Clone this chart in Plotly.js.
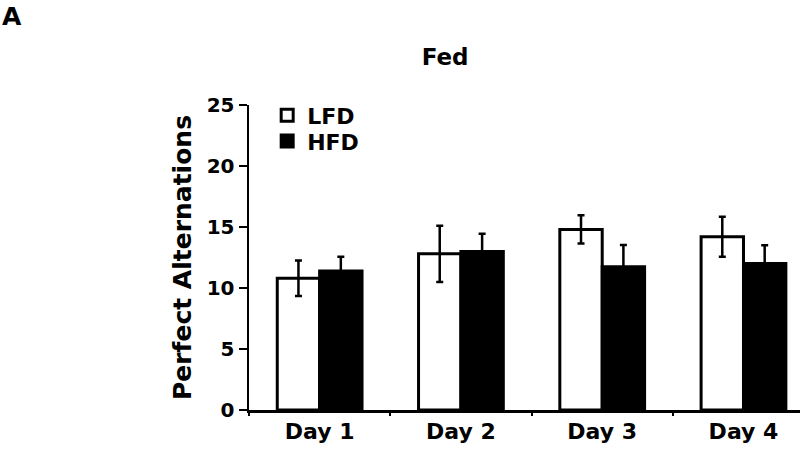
<!DOCTYPE html>
<html>
<head>
<meta charset="utf-8">
<script src="https://cdn.plot.ly/plotly-3.0.1.min.js"></script>
<style>
  body { margin: 0; background: #fff; }
  #chart { width: 800px; height: 455px; }
</style>
</head>
<body>
<div id="chart"></div>
<script>
// Datos
const days = ['Day 1', 'Day 2', 'Day 3', 'Day 4'];
const lfdMean = [10.8, 12.8, 14.8, 14.2];
const lfdErr = [1.45, 2.3, 1.16, 1.63];
const hfdMean = [11.4, 13.0, 11.75, 12.0];
const hfdErr = [1.17, 1.45, 1.77, 1.5];
const yTicks = [0, 5, 10, 15, 20, 25];

const font = 'DejaVu Sans, Verdana, sans-serif';

const errStyle = { type: 'data', visible: true, color: '#000', thickness: 2.5, width: 3.5 };

const data = [
    {
        x: days,
        y: lfdMean,
        type: 'bar',
        name: 'LFD',
        legend: 'legend',
        marker: { color: '#fff', line: { color: '#000', width: 3 } },
        error_y: { ...errStyle, array: lfdErr }
    },
    {
        x: days,
        y: hfdMean,
        type: 'bar',
        name: 'HFD',
        legend: 'legend2',
        marker: { color: '#000', line: { color: '#000', width: 3 } },
        error_y: { ...errStyle, array: hfdErr }
    }
];

// Una leyenda por serie para controlar el espaciado entre filas
const legendBase = {
    x: 0.033, xanchor: 'left',
    yanchor: 'top',
    bgcolor: 'rgba(0,0,0,0)',
    font: { family: font, size: 22, weight: 'bold' }
};

const layout = {
    width: 800,
    height: 455,
    paper_bgcolor: '#fff',
    plot_bgcolor: '#fff',
    font: { family: font, color: '#000', size: 20, weight: 'bold' },
    margin: { t: 105, r: 0, b: 45, l: 249 },
    barmode: 'group',
    bargap: 0.4,
    bargroupgap: 0,
    title: {
        text: '<b>Fed</b>',
        font: { family: font, size: 23, color: '#000' },
        xref: 'paper', x: 0.356, xanchor: 'center',
        yref: 'container', y: 0.875, yanchor: 'middle'
    },
    xaxis: {
        type: 'category',
        range: [-0.5, 3.4],
        showline: true, linecolor: '#000', linewidth: 2.5,
        ticks: 'outside', tickson: 'boundaries', ticklen: 3, tickwidth: 2, tickcolor: '#000',
        tickfont: { family: font, size: 22, weight: 'bold' },
        showgrid: false, zeroline: false, fixedrange: true
    },
    yaxis: {
        range: [0, 25],
        tickvals: yTicks,
        showline: true, linecolor: '#000', linewidth: 2.5,
        ticks: 'outside', ticklen: 8, tickwidth: 2.5, tickcolor: '#000',
        tickfont: { family: font, size: 20, weight: 'bold' },
        showgrid: false, zeroline: false,
        title: { text: '<b>Perfect Alternations</b>', font: { family: font, size: 25 }, standoff: 8 }
    },
    showlegend: true,
    legend: { ...legendBase, y: 1.035 },
    legend2: { ...legendBase, y: 0.950 },
    annotations: [{
        text: '<b>A</b>',
        xref: 'paper', yref: 'paper',
        x: -0.452, y: 1.344,
        xanchor: 'left', yanchor: 'top',
        showarrow: false,
        font: { family: font, size: 25, color: '#000' }
    }]
};

Plotly.newPlot('chart', data, layout, { displayModeBar: false, staticPlot: true });
</script>
</body>
</html>
